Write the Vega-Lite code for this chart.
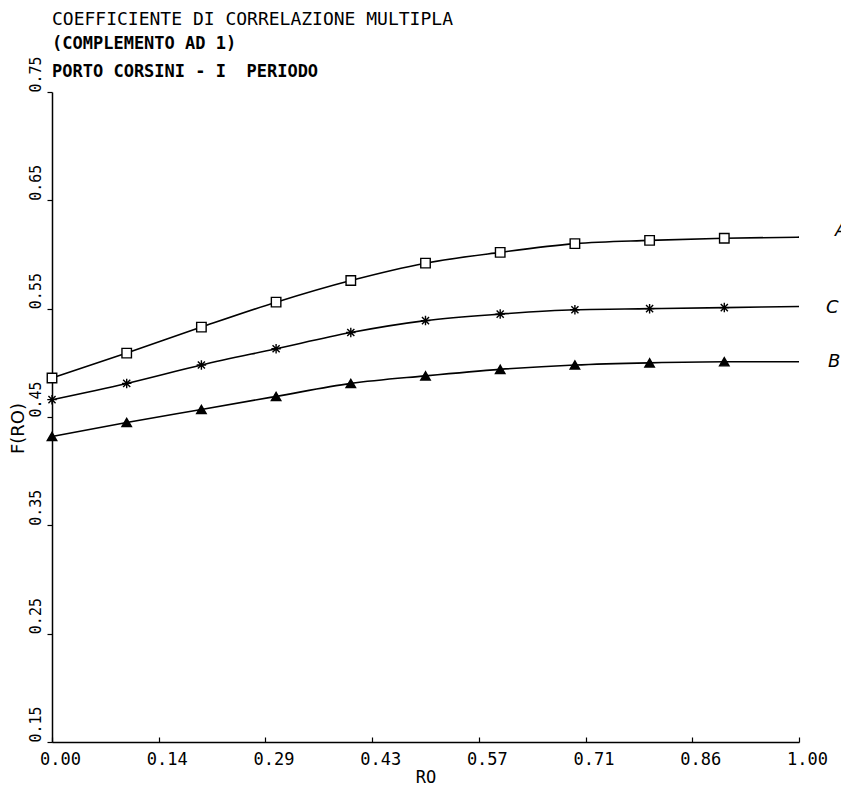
{
  "$schema": "https://vega.github.io/schema/vega-lite/v6.json",
  "width": 747,
  "height": 650,
  "autosize": {"type": "none"},
  "padding": {"left": 52, "top": 92, "right": 42, "bottom": 44},
  "background": "white",
  "title": {
    "text": "COEFFICIENTE DI CORRELAZIONE MULTIPLA",
    "subtitle": ["(COMPLEMENTO AD 1)", "PORTO CORSINI - I \u00a0PERIODO"],
    "anchor": "start",
    "frame": "group",
    "font": "DejaVu Sans Mono",
    "fontSize": 18,
    "fontWeight": "normal",
    "color": "black",
    "subtitleFont": "DejaVu Sans Mono",
    "subtitleFontSize": 17,
    "subtitleFontWeight": "bold",
    "subtitleColor": "black",
    "subtitleLineHeight": 28,
    "subtitlePadding": 7,
    "offset": -24
  },
  "config": {
    "view": {"stroke": null},
    "axis": {
      "grid": false,
      "labelFlush": false,
      "domainColor": "black",
      "domainWidth": 1.5,
      "tickColor": "black",
      "tickWidth": 1.2,
      "labelColor": "black",
      "titleColor": "black",
      "labelFont": "DejaVu Sans Mono",
      "titleFont": "DejaVu Sans Mono",
      "titleFontWeight": "normal"
    }
  },
  "datasets": {
    "curves": [
      {"s": "A", "x": 0.0, "y": 0.486},
      {"s": "A", "x": 0.1, "y": 0.509},
      {"s": "A", "x": 0.2, "y": 0.533},
      {"s": "A", "x": 0.3, "y": 0.556},
      {"s": "A", "x": 0.4, "y": 0.576},
      {"s": "A", "x": 0.5, "y": 0.592},
      {"s": "A", "x": 0.6, "y": 0.602},
      {"s": "A", "x": 0.7, "y": 0.610},
      {"s": "A", "x": 0.8, "y": 0.613},
      {"s": "A", "x": 0.9, "y": 0.615},
      {"s": "A", "x": 1.0, "y": 0.616},
      {"s": "C", "x": 0.0, "y": 0.466},
      {"s": "C", "x": 0.1, "y": 0.481},
      {"s": "C", "x": 0.2, "y": 0.498},
      {"s": "C", "x": 0.3, "y": 0.513},
      {"s": "C", "x": 0.4, "y": 0.528},
      {"s": "C", "x": 0.5, "y": 0.539},
      {"s": "C", "x": 0.6, "y": 0.545},
      {"s": "C", "x": 0.7, "y": 0.549},
      {"s": "C", "x": 0.8, "y": 0.550},
      {"s": "C", "x": 0.9, "y": 0.551},
      {"s": "C", "x": 1.0, "y": 0.552},
      {"s": "B", "x": 0.0, "y": 0.432},
      {"s": "B", "x": 0.1, "y": 0.445},
      {"s": "B", "x": 0.2, "y": 0.457},
      {"s": "B", "x": 0.3, "y": 0.469},
      {"s": "B", "x": 0.4, "y": 0.481},
      {"s": "B", "x": 0.5, "y": 0.488},
      {"s": "B", "x": 0.6, "y": 0.494},
      {"s": "B", "x": 0.7, "y": 0.498},
      {"s": "B", "x": 0.8, "y": 0.500},
      {"s": "B", "x": 0.9, "y": 0.501},
      {"s": "B", "x": 1.0, "y": 0.501}
    ]
  },
  "data": {"name": "curves"},
  "encoding": {
    "x": {
      "field": "x",
      "type": "quantitative",
      "scale": {"domain": [0, 1], "nice": false, "zero": false},
      "axis": {
        "title": "RO",
        "titleFontSize": 17,
        "titlePadding": 2,
        "values": [0, 0.142857142857, 0.285714285714, 0.428571428571, 0.571428571429, 0.714285714286, 0.857142857143, 1],
        "format": ".2f",
        "tickSize": -5,
        "labelFontSize": 17,
        "labelPadding": 14,
        "labelOffset": 8
      }
    },
    "y": {
      "field": "y",
      "type": "quantitative",
      "scale": {"domain": [0.15, 0.75], "nice": false, "zero": false},
      "axis": {
        "title": "F(RO)",
        "titleFont": "DejaVu Sans",
        "titleFontSize": 18,
        "titlePadding": 1,
        "titleY": 336,
        "values": [0.15, 0.25, 0.35, 0.45, 0.55, 0.65, 0.75],
        "format": ".2f",
        "tickSize": 5,
        "labelAngle": 270,
        "labelAlign": "left",
        "labelBaseline": "alphabetic",
        "labelFontSize": 15,
        "labelPadding": 7
      }
    }
  },
  "layer": [
    {
      "mark": {"type": "line", "interpolate": "monotone", "color": "black", "strokeWidth": 1.6},
      "encoding": {"detail": {"field": "s"}}
    },
    {
      "transform": [{"filter": "datum.x < 0.95"}],
      "mark": {"type": "point", "filled": false, "stroke": "black", "strokeWidth": 1.4, "opacity": 1},
      "encoding": {
        "shape": {
          "field": "s",
          "type": "nominal",
          "scale": {"domain": ["A", "B", "C"], "range": ["square", "triangle-up", "M-1,0L1,0M0,-1L0,1M-0.75,-0.75L0.75,0.75M-0.75,0.75L0.75,-0.75"]},
          "legend": null
        },
        "fill": {
          "field": "s",
          "type": "nominal",
          "scale": {"domain": ["A", "B", "C"], "range": ["white", "black", "black"]},
          "legend": null
        },
        "size": {"value": 90}
      }
    },
    {
      "transform": [{"filter": "datum.x == 1 && datum.s == 'A'"}],
      "mark": {"type": "text", "align": "left", "baseline": "middle", "dx": 36, "dy": -6, "font": "DejaVu Sans", "fontSize": 18, "fontStyle": "italic", "color": "black"},
      "encoding": {"text": {"field": "s"}}
    },
    {
      "transform": [{"filter": "datum.x == 1 && datum.s == 'C'"}],
      "mark": {"type": "text", "align": "left", "baseline": "middle", "dx": 27, "dy": 1, "font": "DejaVu Sans", "fontSize": 18, "fontStyle": "italic", "color": "black"},
      "encoding": {"text": {"field": "s"}}
    },
    {
      "transform": [{"filter": "datum.x == 1 && datum.s == 'B'"}],
      "mark": {"type": "text", "align": "left", "baseline": "middle", "dx": 29, "dy": 0, "font": "DejaVu Sans", "fontSize": 18, "fontStyle": "italic", "color": "black"},
      "encoding": {"text": {"field": "s"}}
    }
  ]
}
